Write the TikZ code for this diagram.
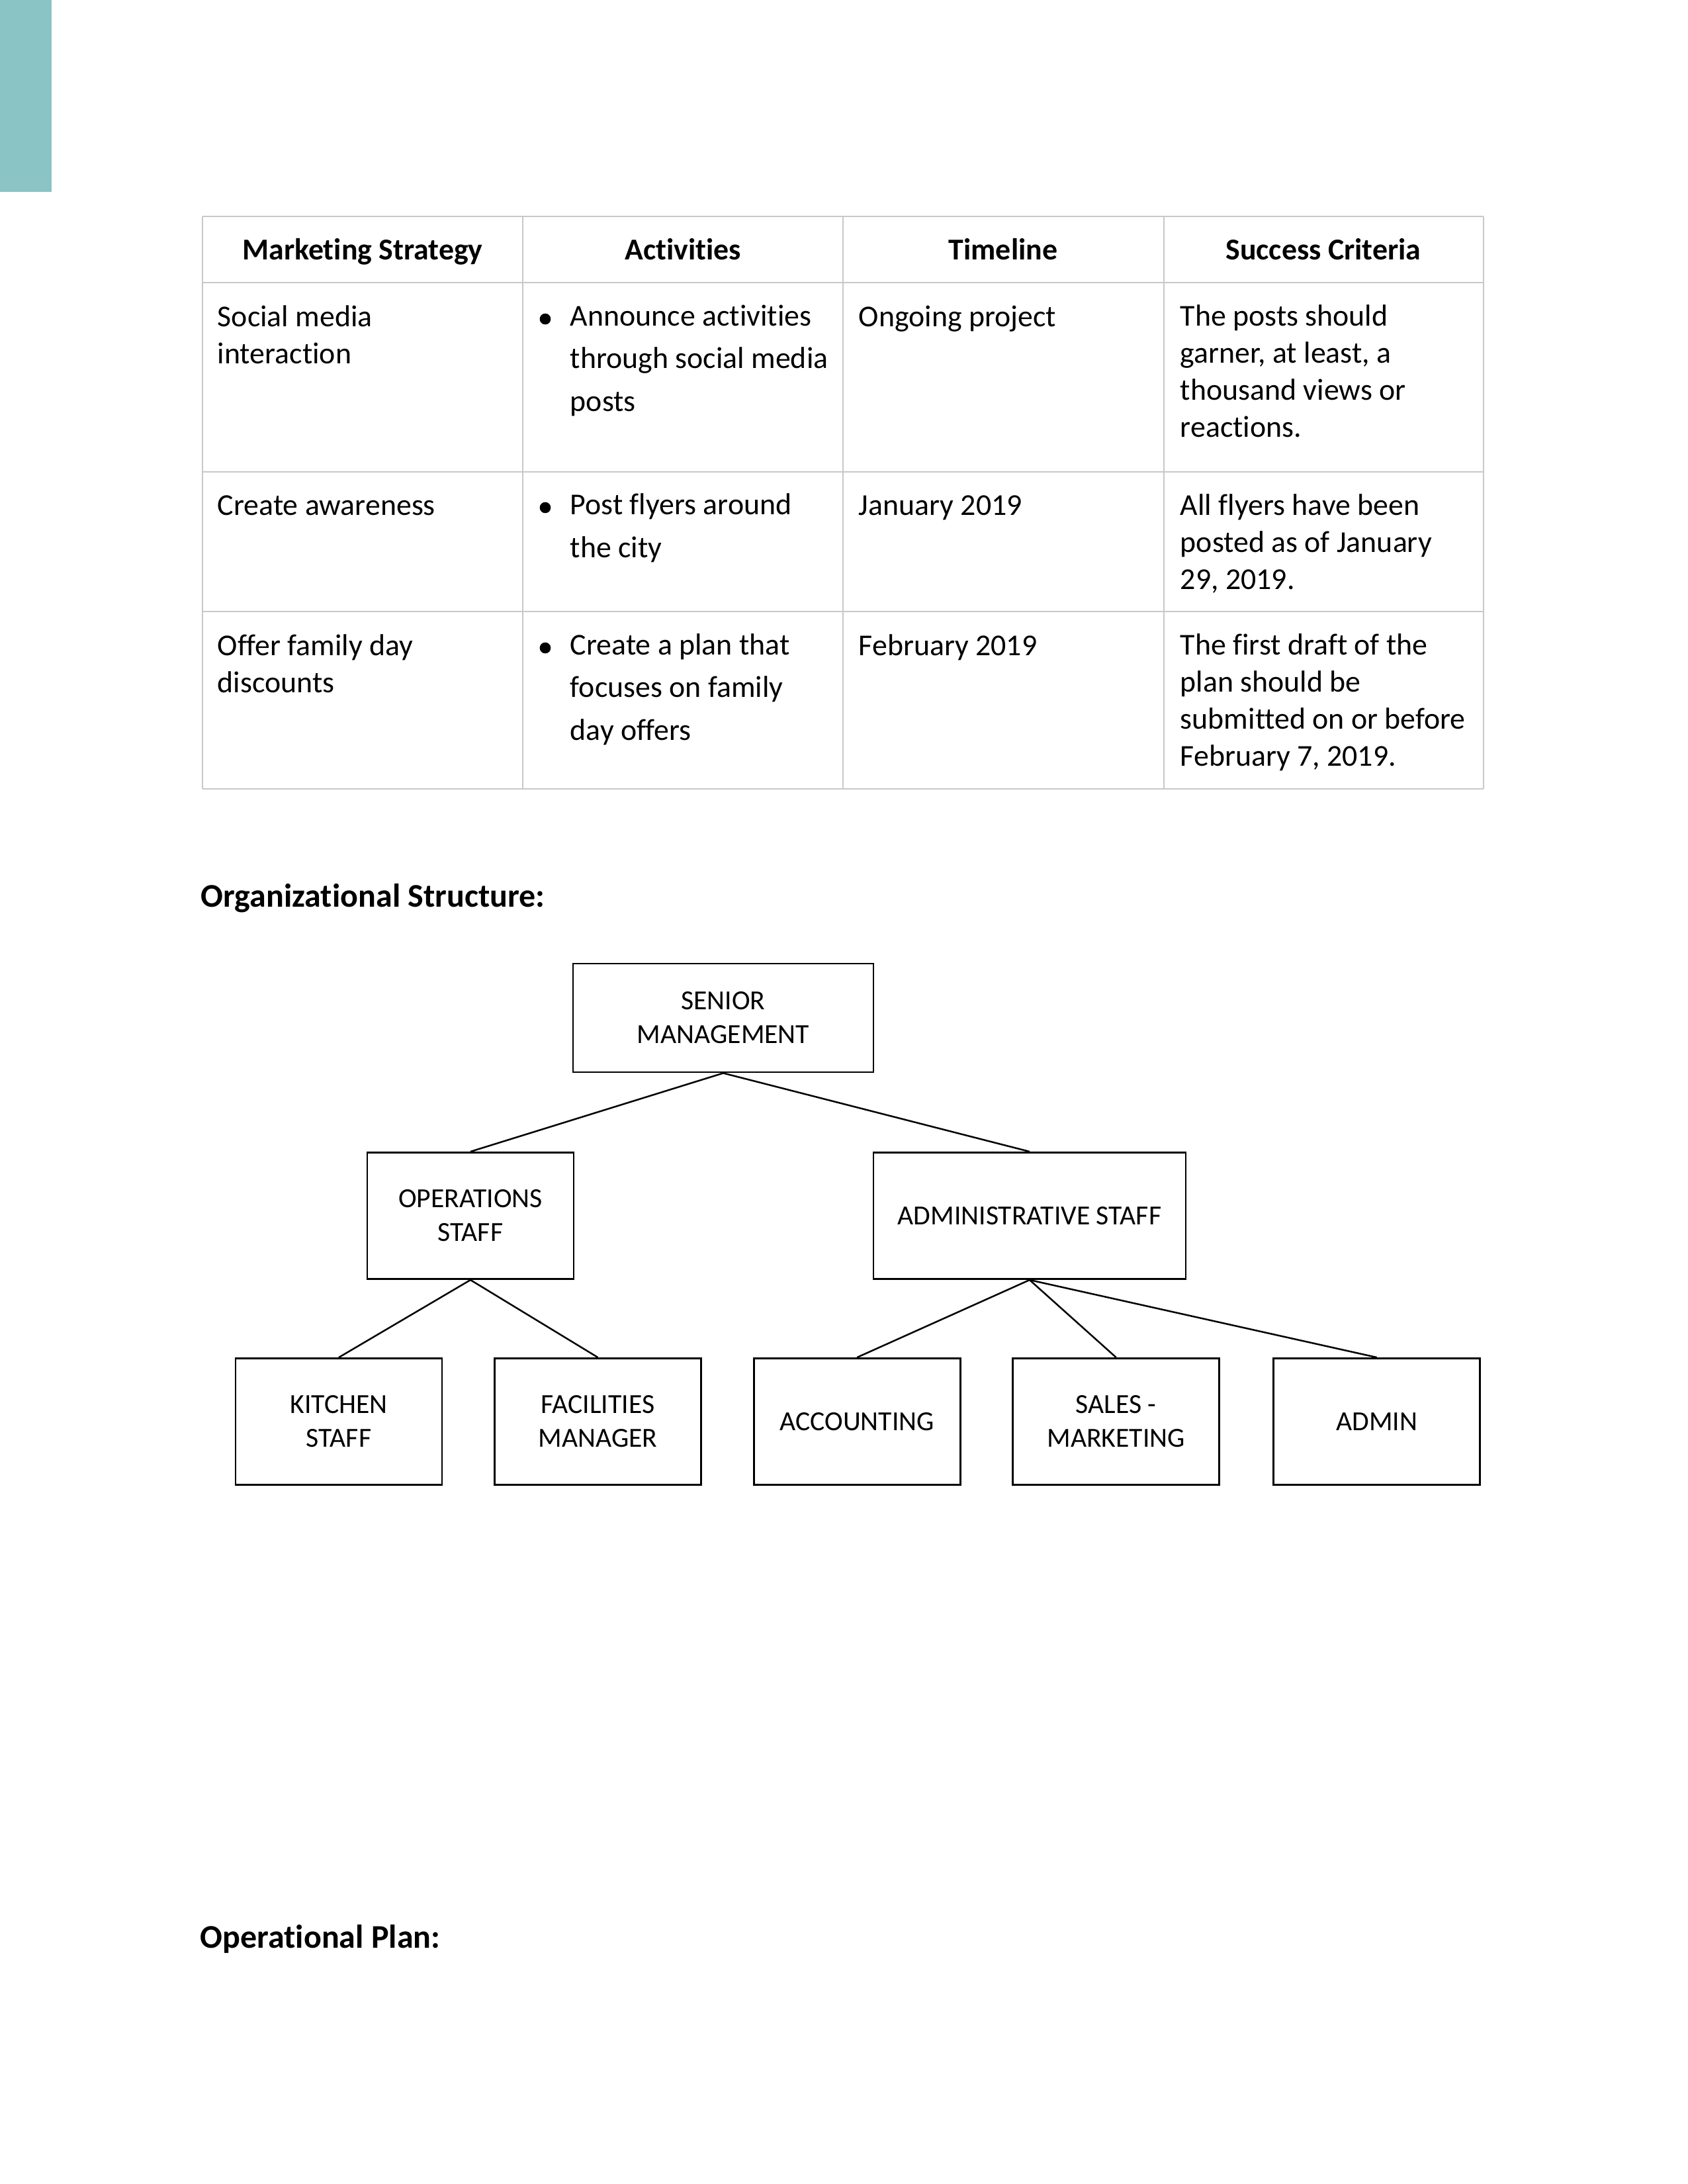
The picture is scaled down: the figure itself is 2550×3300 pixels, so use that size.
\documentclass[tikz,border=0pt]{standalone}
\usepackage{fontspec}
\setmainfont{Carlito}[Ligatures=NoCommon]
\usetikzlibrary{positioning}
\definecolor{tealbar}{RGB}{139,196,197}
\definecolor{gridgray}{RGB}{200,200,200}

\begin{document}
\begin{tikzpicture}[x=0.24pt, y=-0.24pt,
    cell/.style={anchor=base west, inner sep=0pt, align=left, font=\fontsize{11}{13.4}\selectfont},
    bullcell/.style={cell, font=\fontsize{11}{15.4}\selectfont},
    headcell/.style={anchor=base, inner sep=0pt, font=\fontsize{11}{13.4}\selectfont\bfseries},
    heading/.style={anchor=base west, inner sep=0pt, font=\fontsize{12}{14.6}\selectfont\bfseries},
    box/.style={draw, line width=0.7pt, inner sep=0pt, align=center, minimum width=74.88pt, minimum height=45.84pt, font=\fontsize{10}{12.2}\selectfont},
    link/.style={line width=0.6pt}
  ]
  \useasboundingbox (0,0) rectangle (2550,3300);
  \fill[tealbar] (0,0) rectangle (78,290);

  % table grid
  \foreach \y in {327,427,713,924,1192}
    \draw[gridgray, line width=0.5pt] (306,\y) -- (2242,\y);
  \foreach \x in {306,790,1274,1759,2242}
    \draw[gridgray, line width=0.5pt] (\x,327) -- (\x,1192);

  \node[headcell] (hstrat) at (548,392) {Marketing Strategy};
  \node[headcell] (hact) at (1032,392) {Activities};
  \node[headcell] (htime) at (1516,392) {Timeline};
  \node[headcell] (hcrit) at (2000,392) {Success Criteria};

  % multi-line cells sit on the baseline of their last line
  \node[cell] (strat1) at (328,549) {Social media\\interaction};
  \node[bullcell] (act1) at (861,621) {Announce activities\\through social media\\posts};
  \node[cell] (time1) at (1297,493) {Ongoing project};
  \node[cell] (crit1) at (1783,660) {The posts should\\garner, at least, a\\thousand views or\\reactions.};

  \node[cell] (strat2) at (328,778) {Create awareness};
  \node[bullcell] (act2) at (861,842) {Post flyers around\\the city};
  \node[cell] (time2) at (1297,778) {January 2019};
  \node[cell] (crit2) at (1783,890) {All flyers have been\\posted as of January\\29, 2019.};

  \node[cell] (strat3) at (328,1046) {Offer family day\\discounts};
  \node[bullcell] (act3) at (861,1118) {Create a plan that\\focuses on family\\day offers};
  \node[cell] (time3) at (1297,990) {February 2019};
  \node[cell] (crit3) at (1783,1157) {The first draft of the\\plan should be\\submitted on or before\\February 7, 2019.};

  \foreach \y in {482,767,979}
    \fill (824,\y) circle (2pt);

  \node[heading] (orgtitle) at (303,1370) {Organizational Structure:};

  \node[box, minimum width=108.96pt, minimum height=39.36pt] (senior) at (1093,1538) {SENIOR\\MANAGEMENT};
  \node[box] (ops) at (711,1837) {OPERATIONS\\STAFF};
  \node[box, minimum width=113.28pt] (admstaff) at (1556,1837) {ADMINISTRATIVE STAFF};
  \node[box] (kitchen) at (512,2148) {KITCHEN\\STAFF};
  \node[box, right=18.4pt of kitchen] (facil) {FACILITIES\\MANAGER};
  \node[box, right=18.4pt of facil] (acct) {ACCOUNTING};
  \node[box, right=18.4pt of acct] (sales) {SALES -\\MARKETING};
  \node[box, right=19pt of sales] (admin) {ADMIN};

  \draw[link] (senior.south) -- (ops.north);
  \draw[link] (senior.south) -- (admstaff.north);
  \draw[link] (ops.south) -- (kitchen.north);
  \draw[link] (ops.south) -- (facil.north);
  \draw[link] (admstaff.south) -- (acct.north);
  \draw[link] (admstaff.south) -- (sales.north);
  \draw[link] (admstaff.south) -- (admin.north);

  \node[heading] (optitle) at (302,2943) {Operational Plan:};
\end{tikzpicture}
\end{document}
